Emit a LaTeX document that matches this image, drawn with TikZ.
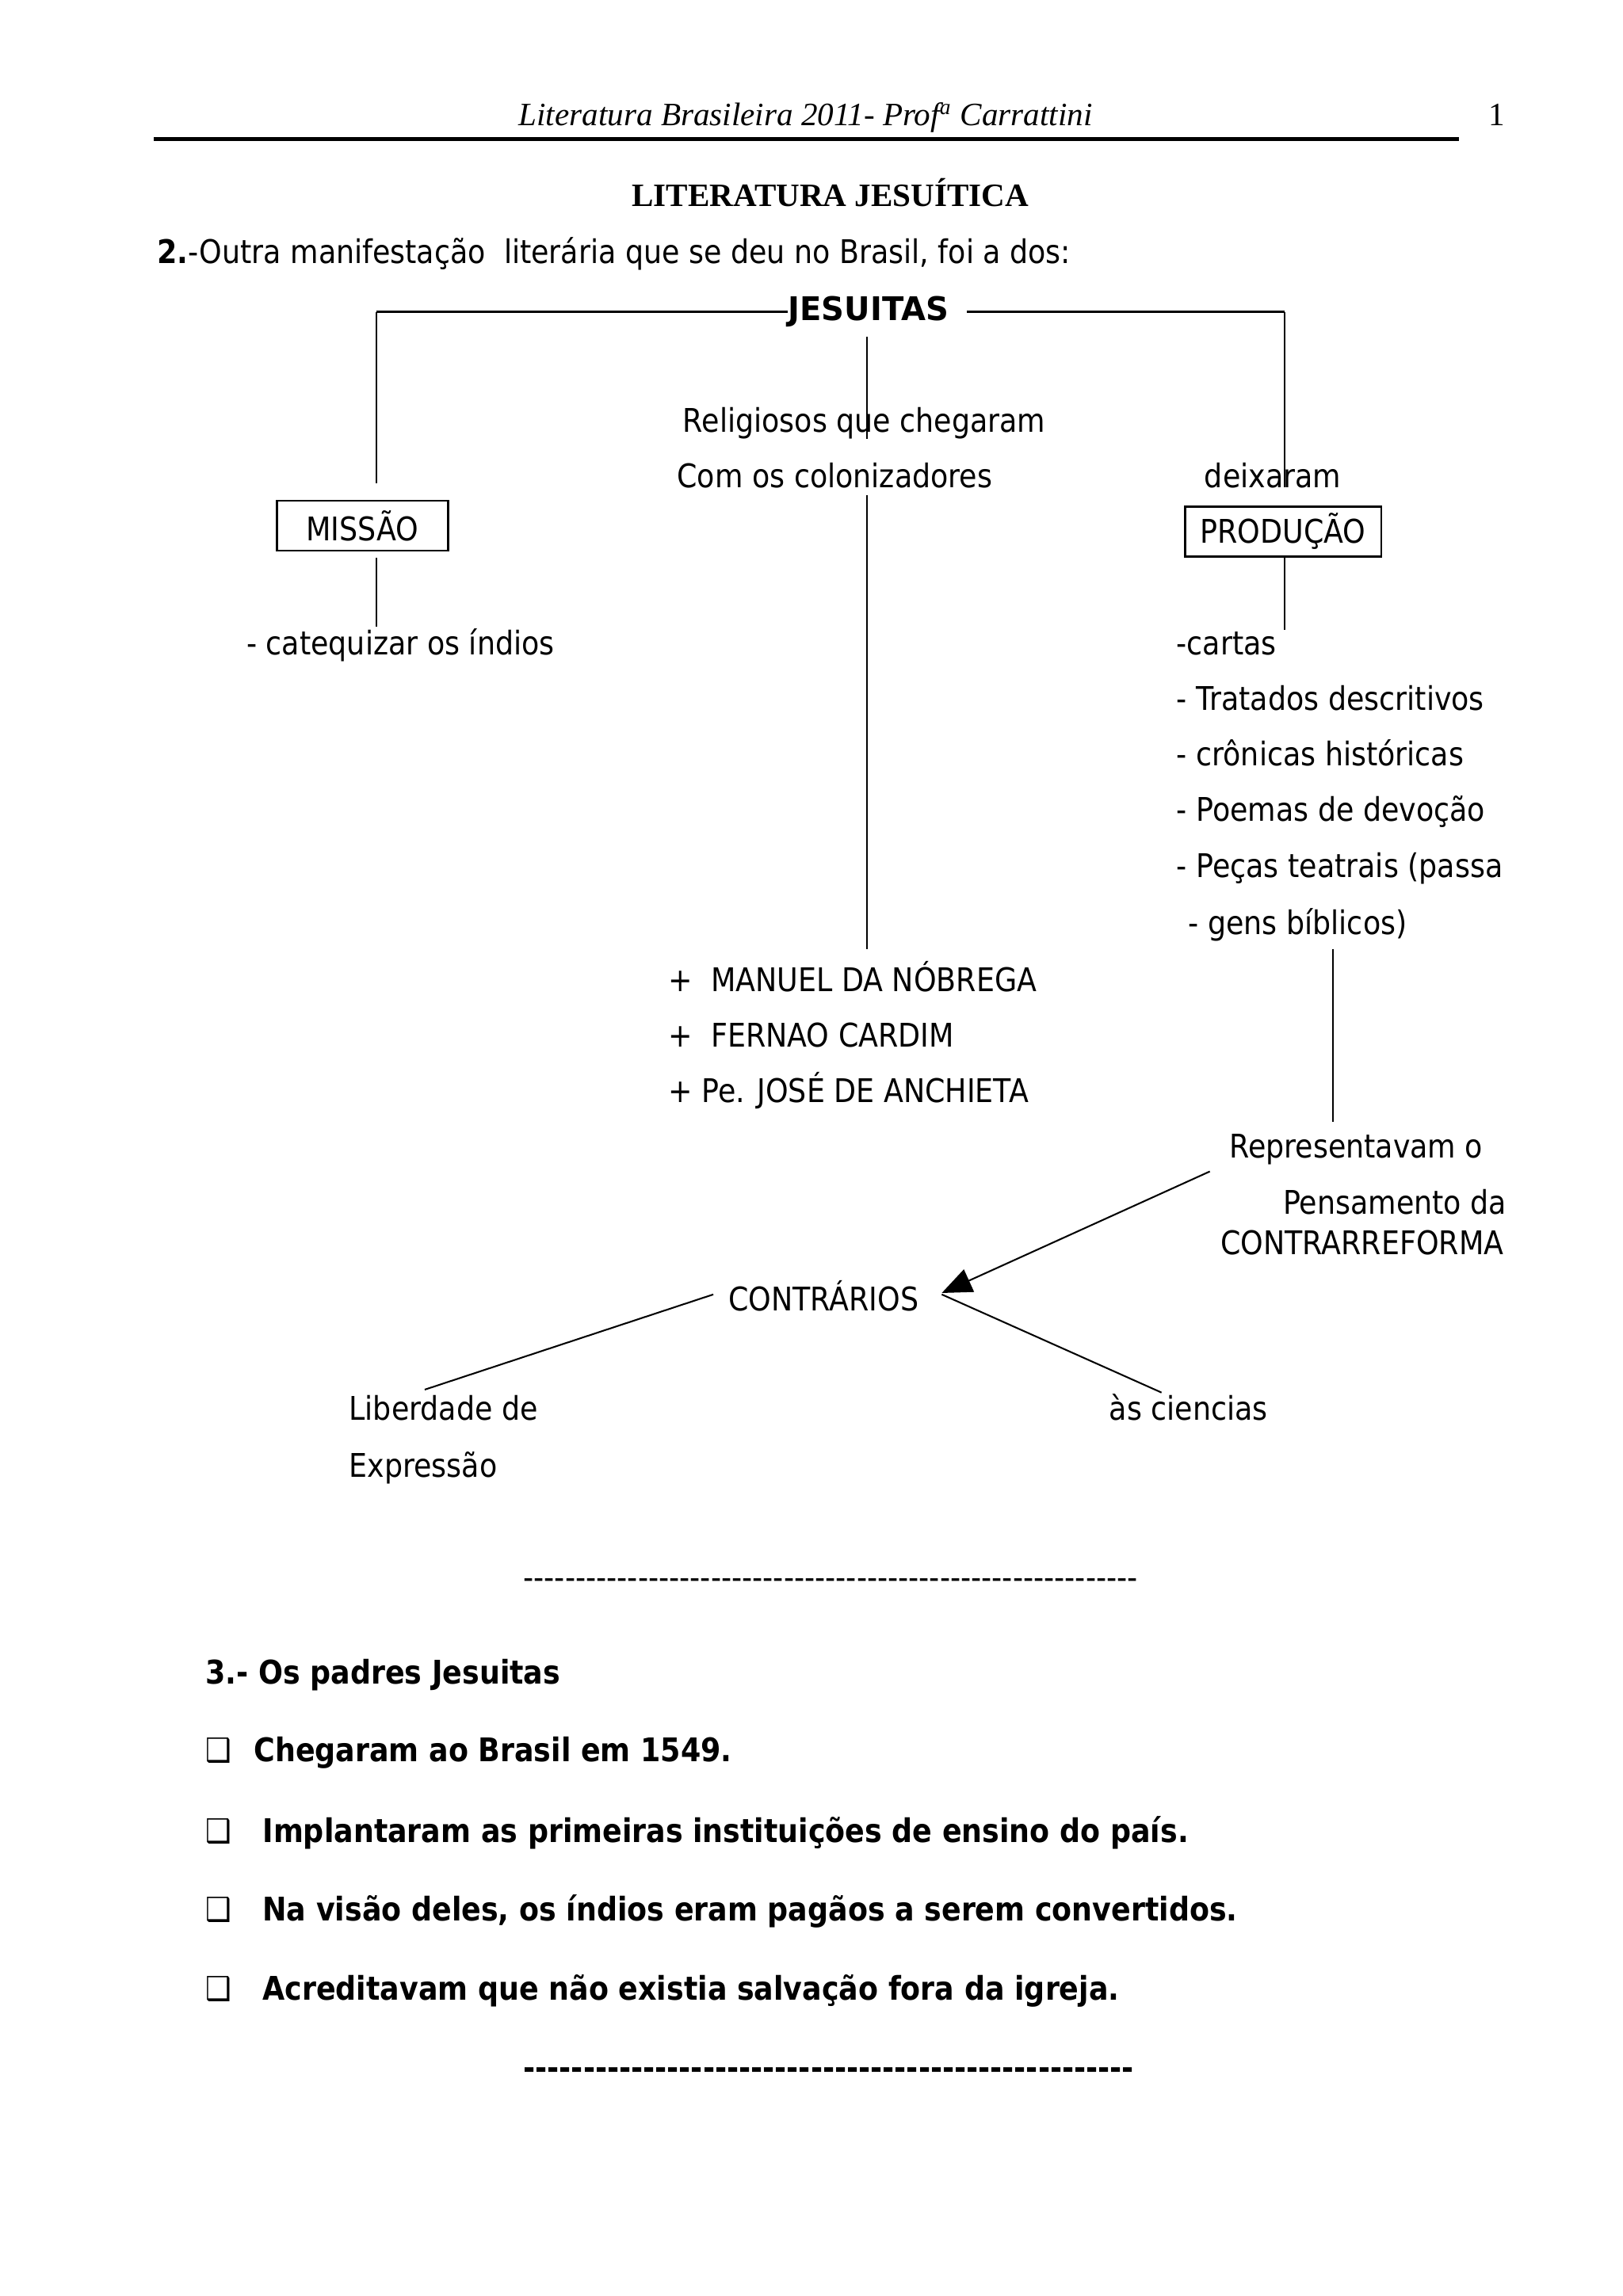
\documentclass[tikz,border=0pt]{standalone}
\usepackage{fontspec}
\usepackage{graphicx}
\setmainfont{DejaVu Sans}[FakeStretch=0.885,Ligatures=TeXOff]
\newfontfamily\tmsfont{Liberation Serif}
\usetikzlibrary{arrows.meta}
\begin{document}
\begin{tikzpicture}[x=0.018953cm,y=-0.018953cm,
  txt/.style={anchor=base west,inner sep=0pt,font=\fontsize{12}{14}\selectfont},
  btxt/.style={txt,font=\fontsize{12}{14}\selectfont\bfseries},
  boxnode/.style={draw,line width=0.8pt,inner sep=0pt,font=\fontsize{12}{14}\selectfont},
  conn/.style={line width=0.6pt},
  hconn/.style={line width=0.9pt}]
\useasboundingbox (0,0) rectangle (1108,1568);
\fill[white] (0,0) rectangle (1108,1568);
% header
\node[anchor=base,inner sep=0pt,font=\tmsfont\itshape\fontsize{12}{14}\selectfont] (hdr) at (550,86) {Literatura Brasileira 2011- Prof\textsuperscript{a} Carrattini};
\node[anchor=base,inner sep=0pt,font=\tmsfont\fontsize{12}{14}\selectfont] (pg) at (1022,86) {1};
\coordinate (rl) at (105,95);
\coordinate (rr) at (996,95);
\draw[line width=1.3pt] (rl) -- (rr);
\node[anchor=base,inner sep=0pt,font=\tmsfont\bfseries\fontsize{12}{14}\selectfont] (title) at (567,141) {LITERATURA JESUÍTICA};
\node[txt] (intro) at (107,180) {\textbf{2.}-Outra manifestação\ \ literária que se deu no Brasil, foi a dos:};
% diagram
\node[btxt,anchor=base] (jes) at (593,219) {\scalebox{1.1}[1]{JESUITAS}};
\node[txt] (relig) at (466,295) {Religiosos que chegaram};
\node[txt] (colon) at (462,333) {Com os colonizadores};
\node[txt] (deix) at (822,333) {deixaram};
\node[boxnode,minimum width=2.2175cm,minimum height=0.644cm] (missao) at (247.5,359) {MISSÃO};
\node[boxnode,minimum width=2.54cm,minimum height=0.644cm] (prod) at (876,363) {PRODUÇÃO};
\node[txt] (cateq) at (168,447) {- catequizar os índios};
\node[txt] (p1) at (803,447) {-cartas};
\node[txt] (p2) at (803,485) {- Tratados descritivos};
\node[txt] (p3) at (803,523) {- crônicas históricas};
\node[txt] (p4) at (803,561) {- Poemas de devoção};
\node[txt] (p5) at (803,599) {- Peças teatrais (passa};
\node[txt] (p6) at (811,638) {- gens bíblicos)};
\node[txt] (n1) at (456,677) {+\ \ MANUEL DA NÓBREGA};
\node[txt] (n2) at (456,715) {+\ \ FERNAO CARDIM};
\node[txt] (n3) at (456,753) {+ Pe. JOSÉ DE ANCHIETA};
\node[txt] (repr) at (839,791) {Representavam o};
\node[txt,anchor=base east] (pens) at (1029,829) {Pensamento da};
\node[txt] (contra) at (833,857) {CONTRARREFORMA};
\node[txt] (contr) at (497,895) {CONTRÁRIOS};
\node[txt] (lib1) at (238,970) {Liberdade de};
\node[txt] (lib2) at (238,1009) {Expressão};
\node[txt] (cien) at (757,970) {às ciencias};
% connectors
\coordinate (lh) at (257,213);
\coordinate (lv) at (257,330);
\coordinate (rh) at (660,213);
\coordinate (rv) at (877,333);
\coordinate (c0) at (592,230);
\coordinate (c1) at (592,300);
\coordinate (c2) at (592,338);
\coordinate (c3) at (592,648);
\coordinate (m1) at (257,381);
\coordinate (m2) at (257,428);
\coordinate (pa) at (877,380);
\coordinate (pb) at (877,430);
\coordinate (g1) at (910,648);
\coordinate (g2) at (910,766);
\coordinate (a1) at (826,800);
\coordinate (a2) at (643,883);
\coordinate (k1) at (487,884);
\coordinate (k2) at (290,949);
\coordinate (k3) at (643,884);
\coordinate (k4) at (793,951);
\draw[hconn] (jes.west |- lh) -- (lh);
\draw[conn] (lh) -- (lv);
\draw[hconn] (rh) -- (rh -| rv);
\draw[conn] (rh -| rv) -- (rv);
\draw[conn] (c0) -- (c1);
\draw[conn] (c2) -- (c3);
\draw[conn] (m1) -- (m2);
\draw[conn] (pa) -- (pb);
\draw[conn] (g1) -- (g2);
\draw[conn,-{Triangle[length=11pt,width=9pt]}] (a1) -- (a2);
\draw[conn] (k1) -- (k2);
\draw[conn] (k3) -- (k4);
% section 3
\node[txt] (sep1) at (357,1085) {-----------------------------------------------------------};
\node[btxt] (s3) at (140,1150) {3.- Os padres Jesuitas};
\node[txt,font=\fontsize{12}{14}\selectfont] (b1) at (140,1203) {❑};
\node[btxt] (t1) at (173,1203) {Chegaram ao Brasil em 1549.};
\node[txt,font=\fontsize{12}{14}\selectfont] (b2) at (140,1258) {❑};
\node[btxt] (t2) at (179,1258) {Implantaram as primeiras instituições de ensino do país.};
\node[txt,font=\fontsize{12}{14}\selectfont] (b3) at (140,1312) {❑};
\node[btxt] (t3) at (179,1312) {Na visão deles, os índios eram pagãos a serem convertidos.};
\node[txt,font=\fontsize{12}{14}\selectfont] (b4) at (140,1366) {❑};
\node[btxt] (t4) at (179,1366) {Acreditavam que não existia salvação fora da igreja.};
\node[btxt] (sep2) at (357,1420) {---------------------------------------------------};
\end{tikzpicture}
\end{document}
